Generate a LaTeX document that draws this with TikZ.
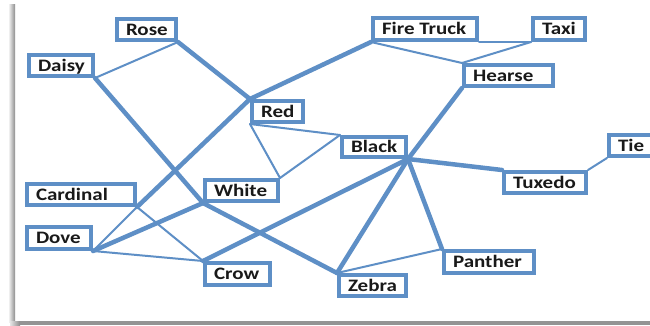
\documentclass[tikz,border=0pt]{standalone}
\usepackage{fontspec}
\usetikzlibrary{backgrounds}
\newfontfamily\boxfont[FakeStretch=1.2]{Carlito}
\definecolor{boxblue}{RGB}{94,143,198}
\tikzset{
  box/.style={draw=boxblue, line width=4pt, fill=white, inner xsep=9pt, inner ysep=0pt,
    text height=11.5pt, text depth=0pt,
    font=\boxfont\bfseries\fontsize{17.5}{18}\selectfont, text=black!90},
  thickedge/.style={draw=boxblue, line width=4.5pt, line cap=round},
  thinedge/.style={draw=boxblue, line width=2pt, line cap=round}
}
\newcommand\bx[6]{\node[box, minimum height=#5pt] (#1) at (#2,#3) {\hbox to #4pt{#6\hss}};}
\begin{document}
\begin{tikzpicture}[x=1pt,y=-1pt]
\useasboundingbox (0,0) rectangle (650,325);
% nodes
\bx{rose}{146.5}{29.5}{41}{21}{Rose}
\bx{daisy}{61}{65.5}{46}{21}{Daisy}
\bx{red}{277.5}{111.5}{33}{21}{Red}
\bx{fire}{425}{29}{86}{22}{Fire Truck}
\bx{taxi}{559}{29}{34}{22}{Taxi}
\bx{hearse}{508.5}{75.5}{71}{21}{Hearse}
\bx{black}{374}{147}{46}{20}{Black}
\bx{tie}{632}{145.5}{28}{21}{Tie}
\bx{tux}{545}{182.5}{64}{21}{Tuxedo}
\bx{card}{81}{194.5}{90}{21}{Cardinal}
\bx{white}{241.5}{190.5}{55}{21}{White}
\bx{dove}{59}{238}{46}{22}{Dove}
\bx{crow}{237.5}{274}{47}{22}{Crow}
\bx{panther}{489}{262}{72}{22}{Panther}
\bx{zebra}{372.5}{285.5}{49}{21}{Zebra}
\begin{scope}[on background layer]
\fill[white] (0,0) rectangle (650,325);
\shade[left color=white, right color=black!45] (8,4) rectangle (15,322);
\shade[left color=black!10, right color=black!45] (10,321) rectangle (20,325);
\fill[black!42] (20,321) rectangle (650,325);
% thick edges
\draw[thickedge] (rose.south east) -- (red.north west);
\draw[thickedge] (daisy.south east) -- (white.south west);
\draw[thickedge] (white.south west) -- (zebra.north west);
\draw[thickedge] (fire.south west) -- (red.north west);
\draw[thickedge] (red.north west) -- (card.south east);
\draw[thickedge] (black.south east) -- (hearse.south west);
\draw[thickedge] (black.south east) -- (tux.north west);
\draw[thickedge] (black.south east) -- (crow.north west);
\draw[thickedge] (black.south east) -- (zebra.north west);
\draw[thickedge] (black.south east) -- (panther.north west);
\draw[thickedge] (white.south west) -- (dove.south east);
% thin edges
\draw[thinedge] (rose.south east) -- (daisy.south east);
\draw[thinedge] (red.south west) -- (black.north west);
\draw[thinedge] (red.south west) -- (white.north east);
\draw[thinedge] (white.north east) -- (black.north west);
\draw[thinedge] (dove.south east) -- (crow.north west);
\draw[thinedge] (card.south east) -- (crow.north west);
\draw[thinedge] (card.south east) -- (dove.south east);
\draw[thinedge] (zebra.north west) -- (panther.north west);
\draw[thinedge] (tux.north east) -- (tie.south west);
\draw[thinedge] (fire.south west) -- (hearse.north west);
\draw[thinedge] (taxi.south west) -- (hearse.north west);
\draw[thinedge] (fire.south east) -- (taxi.south west);
\end{scope}
\end{tikzpicture}
\end{document}
